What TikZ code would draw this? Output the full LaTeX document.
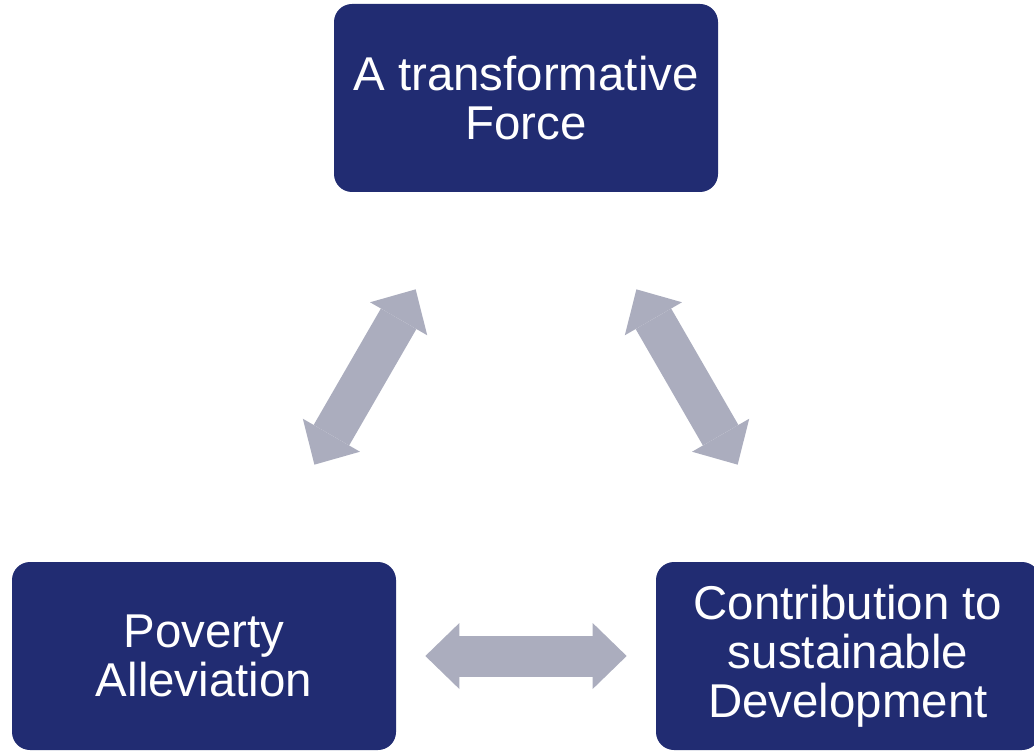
\documentclass[tikz,border=0pt]{standalone}
\usepackage{fontspec}
\setmainfont{Liberation Sans}
\usetikzlibrary{arrows.meta}
\definecolor{navy}{HTML}{212C72}
\definecolor{grigio}{HTML}{ABADBE}
\begin{document}
\begin{tikzpicture}[
    box/.style={rectangle, rounded corners=0.36cm, fill=navy, text=white,
        minimum width=7.68cm, minimum height=3.76cm, align=center,
        font=\fontsize{27}{28}\selectfont},
    link/.style={draw=grigio, line width=0.82cm,
        {Triangle[length=0.68cm, width=1.32cm, line width=0pt]}-{Triangle[length=0.68cm, width=1.32cm, line width=0pt]}}
]
\useasboundingbox (0,0) rectangle (20.68,15.06);
\clip (0,0) rectangle (20.68,15.06);

% Riquadri
\node[box] (F) at (10.52,13.10) {A transformative\\Force};
\node[box] (P) at (4.08,1.94) {Poverty\\Alleviation};
\node[box] (C) at (16.96,1.94) {Contribution to\\sustainable\\Development};

% Frecce
\draw[link, shorten <=2.24cm, shorten >=2.24cm] (P) -- (F);
\draw[link, shorten <=2.24cm, shorten >=2.24cm] (F) -- (C);
\draw[link, shorten <=0.58cm, shorten >=0.58cm] (P) -- (C);
\end{tikzpicture}
\end{document}
